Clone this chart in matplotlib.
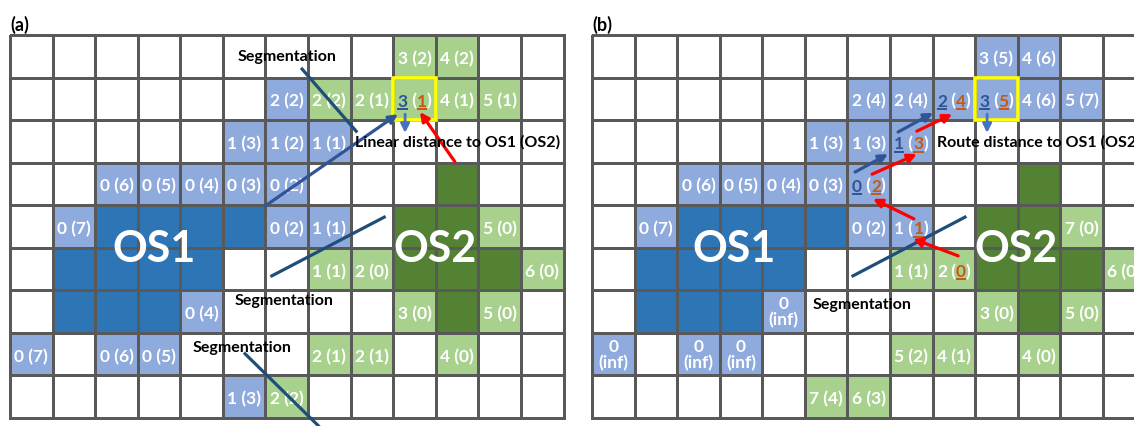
import matplotlib
matplotlib.use("Agg")
import matplotlib.pyplot as plt
import numpy as np
from matplotlib.colors import ListedColormap
from matplotlib.patches import Rectangle
from matplotlib.font_manager import FontProperties

plt.rcParams['font.family'] = ['Lato', 'DejaVu Sans']
plt.rcParams['font.weight'] = 'bold'

# cell kinds: '.' empty, 'b' near OS1, 'B' OS1, 'g' near OS2, 'G' OS2
kinds_a = [
    ".........gg..",
    "......bggggg.",
    ".....bbb.....",
    "..bbbbb...G..",
    ".bBBBBbb.GGg.",
    ".BBBB..ggGGGg",
    ".BBBb....gGg.",
    "b.bb...gg.g..",
    ".....bg......",
]
kinds_b = [
    ".........bb..",
    "......bbbbbb.",
    ".....bbb.....",
    "..bbbbb...G..",
    ".bBBBBbb.GGg.",
    ".BBBB..ggGGGg",
    ".BBBb....gGg.",
    "b.bb...gg.g..",
    ".....gg......",
]

# distance to OS1 (distance to OS2), keyed by (row, col)
labels_a = {
    (0, 9): "3 (2)", (0, 10): "4 (2)",
    (1, 6): "2 (2)", (1, 7): "2 (2)", (1, 8): "2 (1)", (1, 9): "3 (1)",
    (1, 10): "4 (1)", (1, 11): "5 (1)",
    (2, 5): "1 (3)", (2, 6): "1 (2)", (2, 7): "1 (1)",
    (3, 2): "0 (6)", (3, 3): "0 (5)", (3, 4): "0 (4)", (3, 5): "0 (3)", (3, 6): "0 (2)",
    (4, 1): "0 (7)", (4, 6): "0 (2)", (4, 7): "1 (1)", (4, 11): "5 (0)",
    (5, 7): "1 (1)", (5, 8): "2 (0)", (5, 12): "6 (0)",
    (6, 4): "0 (4)", (6, 9): "3 (0)", (6, 11): "5 (0)",
    (7, 0): "0 (7)", (7, 2): "0 (6)", (7, 3): "0 (5)", (7, 7): "2 (1)", (7, 8): "2 (1)",
    (7, 10): "4 (0)",
    (8, 5): "1 (3)", (8, 6): "2 (2)",
}
labels_b = {
    (0, 9): "3 (5)", (0, 10): "4 (6)",
    (1, 6): "2 (4)", (1, 7): "2 (4)", (1, 8): "2 (4)", (1, 9): "3 (5)",
    (1, 10): "4 (6)", (1, 11): "5 (7)",
    (2, 5): "1 (3)", (2, 6): "1 (3)", (2, 7): "1 (3)",
    (3, 2): "0 (6)", (3, 3): "0 (5)", (3, 4): "0 (4)", (3, 5): "0 (3)", (3, 6): "0 (2)",
    (4, 1): "0 (7)", (4, 6): "0 (2)", (4, 7): "1 (1)", (4, 11): "7 (0)",
    (5, 7): "1 (1)", (5, 8): "2 (0)", (5, 12): "6 (0)",
    (6, 4): "0\n(inf)", (6, 9): "3 (0)", (6, 11): "5 (0)",
    (7, 0): "0\n(inf)", (7, 2): "0\n(inf)", (7, 3): "0\n(inf)", (7, 7): "5 (2)",
    (7, 8): "4 (1)", (7, 10): "4 (0)",
    (8, 5): "7 (4)", (8, 6): "6 (3)",
}

# which of the two numbers are highlighted (OS1 part, OS2 part)
marks_a = {(1, 9): (True, True)}
marks_b = {(1, 8): (True, True), (1, 9): (True, True), (2, 7): (True, True),
           (3, 6): (True, True), (4, 7): (False, True), (5, 8): (False, True)}
focus_cell = (1, 9)

# overlay geometry in grid units (col, row)
seg_lines_a = [(6.86, 0.80, 8.13, 2.26), (6.15, 5.66, 8.79, 4.28), (5.52, 7.49, 7.24, 9.18)]
seg_lines_b = [(6.13, 5.66, 8.76, 4.28)]
seg_text_a = [(6.51, 0.49), (6.44, 6.23), (5.45, 7.33)]
seg_text_b = [(6.34, 6.32)]
blue_arrows_a = [(5.99, 4.02, 9.11, 1.86)]
red_arrows_a = [(10.45, 2.98, 9.63, 1.81)]
blue_arrows_b = [(6.18, 3.22, 6.95, 2.80), (7.19, 2.28, 8.01, 1.83)]
red_arrows_b = [(6.58, 3.27, 7.63, 2.80), (7.63, 2.26, 8.46, 1.86),
                (7.56, 4.32, 6.60, 3.85), (8.60, 5.19, 7.54, 4.79)]
os_pos_a = [("OS1", 3.38, 5.0), ("OS2", 9.98, 5.0)]
os_pos_b = [("OS1", 3.33, 5.0), ("OS2", 9.95, 5.0)]

palette = {'.': 0, 'b': 1, 'B': 2, 'g': 3, 'G': 4}
cmap = ListedColormap(['white', '#8faadc', '#2e75b6', '#a9d18e', '#548235'])
os1_col = '#2f5597'
os2_col = '#c55a11'
grid_col = '#595959'
fs = 12.5      # cell labels
fs_note = 11.5  # captions

W, H = 1134, 427
fig = plt.figure(figsize=(W / 100, H / 100), dpi=100)
fp = FontProperties(family='Lato', weight='bold', size=fs)


def rich_label(ax, r, c, s, m1, m2):
    rend = fig.canvas.get_renderer()
    a, b = s.replace(')', '').split(' (')
    parts = [(a, os1_col if m1 else 'white', m1), (' (', 'white', False),
             (b, os2_col if m2 else 'white', m2), (')', 'white', False)]

    def width(t):
        return rend.get_text_width_height_descent(t, fp, ismath=False)[0]

    cx, cy = ax.transData.transform((c + 0.5, r + 0.66))
    x0 = cx - width(a + ' (' + b + ')') / 2
    inv = ax.transData.inverted()
    acc = ''
    for txt, col, ul in parts:
        acc += txt
        xe = x0 + width(acc)
        xd, yd = inv.transform((xe, cy))
        ax.text(xd, yd, txt, ha='right', va='baseline', color=col,
                fontproperties=fp, zorder=3)
        if ul:
            u = inv.transform([(xe - width(txt), cy - 3.5), (xe, cy - 3.5)])
            ax.plot(u[:, 0], u[:, 1], color=col, lw=1.4, solid_capstyle='butt', zorder=3)


def arrow(ax, seg, color, lw=2.3):
    x0, y0, x1, y1 = seg
    ax.annotate('', xy=(x1, y1), xytext=(x0, y0),
                arrowprops=dict(arrowstyle='-|>', color=color, lw=lw,
                                mutation_scale=13, shrinkA=0, shrinkB=0),
                zorder=4, annotation_clip=False)


def draw_panel(left_px, tag, kinds, labels, marks, seg_lines, seg_text,
               blue_arrows, red_arrows, os_pos, caption):
    ax = fig.add_axes([left_px / W, 8 / H, 553.5 / W, 383 / H])
    codes = np.array([[palette[ch] for ch in row] for row in kinds])
    ax.pcolormesh(np.arange(14), np.arange(10), codes, cmap=cmap, vmin=-0.5, vmax=4.5,
                  edgecolors=grid_col, linewidth=2.0, clip_on=False, zorder=1)
    ax.set_xlim(0, 13)
    ax.set_ylim(9, 0)
    ax.axis('off')

    r, c = focus_cell
    ax.add_patch(Rectangle((c, r), 1, 1, fill=False, edgecolor='#ffff00', lw=2.6, zorder=2))

    for (r, c), s in labels.items():
        if (r, c) in marks:
            rich_label(ax, r, c, s, *marks[(r, c)])
        elif '\n' in s:
            ax.text(c + 0.5, r + 0.5, s, ha='center', va='center', color='white',
                    fontproperties=fp, linespacing=1.0, zorder=3)
        else:
            ax.text(c + 0.5, r + 0.66, s, ha='center', va='baseline', color='white',
                    fontproperties=fp, zorder=3)

    for name, x, y in os_pos:
        ax.text(x, y, name, ha='center', va='center', color='white', fontsize=31,
                fontweight='bold', zorder=3)

    for x0, y0, x1, y1 in seg_lines:
        ax.plot([x0, x1], [y0, y1], color='#1f4e79', lw=2.3, clip_on=False, zorder=4)
    for x, y in seg_text:
        ax.text(x, y, "Segmentation", ha='center', va='center', color='black',
                fontsize=fs_note, fontweight='bold', zorder=5)

    for seg in blue_arrows:
        arrow(ax, seg, os1_col)
    for seg in red_arrows:
        arrow(ax, seg, '#ff0000')
    # short pointer from the focus cell to the caption
    arrow(ax, (9.28, 1.86, 9.28, 2.30), '#4472c4', lw=2.0)
    ax.text(8.10, 2.49, caption, ha='left', va='center', color='black',
            fontsize=fs_note, fontweight='bold', zorder=5, clip_on=False)

    ax.text(0.0, -0.27, tag, ha='left', va='center', color='black', fontsize=13,
            fontweight='bold', clip_on=False)


draw_panel(10, "(a)", kinds_a, labels_a, marks_a, seg_lines_a, seg_text_a,
           blue_arrows_a, red_arrows_a, os_pos_a, "Linear distance to OS1 (OS2)")
draw_panel(592, "(b)", kinds_b, labels_b, marks_b, seg_lines_b, seg_text_b,
           blue_arrows_b, red_arrows_b, os_pos_b, "Route distance to OS1 (OS2)")

fig.savefig("out.png", dpi=100)
